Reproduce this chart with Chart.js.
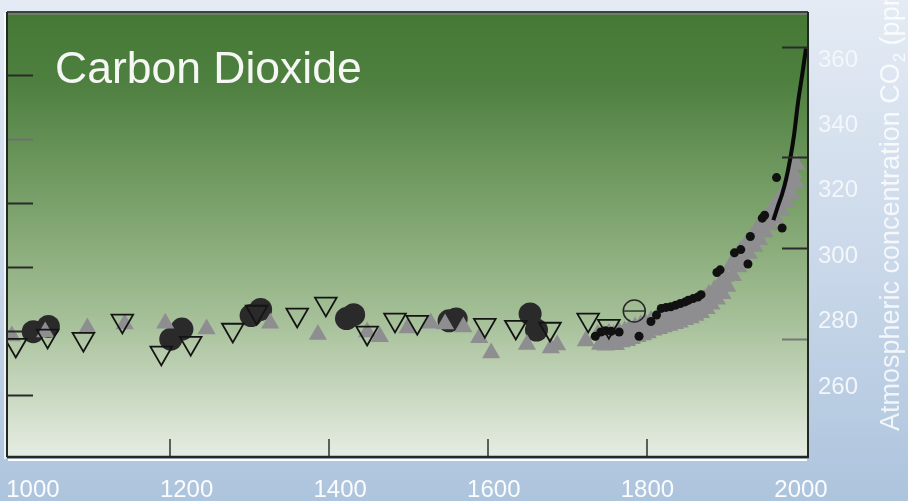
<!DOCTYPE html>
<html>
<head>
<meta charset="utf-8">
<title>Carbon Dioxide</title>
<script src="https://cdn.jsdelivr.net/npm/chart.js@4.4.1/dist/chart.umd.min.js"></script>
<style>
  html, body { margin: 0; padding: 0; background: #c9d7e9; }
  #c { display: block; }
</style>
</head>
<body>
<canvas id="c" width="908" height="501"></canvas>
<script>
// ---- data ----
const yearTicks = [1000, 1200, 1400, 1600, 1800, 2000];
const ppmTicks = [260, 280, 300, 320, 340, 360];
const innerYearTicks = [1200, 1400, 1600, 1800];
const leftTickPpm = [355.4, 335.8, 316.2, 296.7, 277.1, 257.5];
const rightTickPpm = [363.9, 330.3, 302.5, 274.6];

// ice-core samples, filled circles
const circleYears = [1028, 1047, 1201, 1215, 1302, 1314, 1422, 1431, 1551, 1560, 1653, 1661];
const circlePpm   = [276.9, 278.5, 274.6, 277.7, 281.8, 283.7, 280.9, 282.1, 280.2, 280.8, 282.3, 277.4];

// ice-core samples, grey up-triangles
const triYears = [1001, 1043, 1096, 1143, 1194, 1246, 1326, 1386, 1448, 1464, 1499, 1528, 1546, 1569, 1589, 1604, 1649, 1679, 1687, 1723];
const triPpm   = [275.6, 276.8, 278.0, 279.2, 279.5, 277.7, 279.5, 276.0, 276.8, 275.3, 278.0, 279.5, 279.2, 278.3, 275.0, 270.4, 273.0, 271.9, 272.8, 274.0];

// ice-core samples, open down-triangles
const downYears = [1006, 1046, 1091, 1140, 1189, 1226, 1279, 1309, 1360, 1396, 1448, 1483, 1511, 1596, 1635, 1678, 1726, 1752];
const downPpm   = [272.8, 275.6, 274.6, 280.2, 270.4, 273.4, 277.4, 282.9, 282.0, 285.4, 276.5, 280.5, 279.8, 278.9, 278.3, 277.7, 280.5, 278.6];

// open circle sample
const ringYears = [1784];
const ringPpm   = [283.2];

// dense grey record, 1738-1988
const bandYears = [1738, 1741, 1745, 1748, 1752, 1755, 1758, 1761, 1765, 1768, 1772, 1775, 1778, 1781, 1785, 1788,
  1792, 1795, 1798, 1801, 1805, 1808, 1812, 1815, 1818, 1821, 1825, 1828, 1832, 1835, 1838, 1841, 1845, 1848,
  1852, 1855, 1858, 1861, 1865, 1868, 1872, 1875, 1878, 1881, 1885, 1888, 1892, 1895, 1898, 1901, 1905, 1908,
  1912, 1915, 1918, 1921, 1925, 1928, 1932, 1935, 1938, 1941, 1945, 1948, 1952, 1955, 1958, 1961, 1965, 1968,
  1972, 1975, 1978, 1981, 1984, 1987, 1988];
const bandPpm = [276.0, 273.0, 275.7, 272.7, 276.3, 273.3, 275.9, 272.9, 276.7, 273.7, 277.1, 274.1, 277.7, 274.7, 278.3, 275.3,
  278.9, 275.9, 279.5, 276.5, 280.3, 277.3, 280.8, 277.8, 281.3, 278.3, 281.8, 278.8, 282.3, 279.3, 282.8, 279.8, 283.5, 280.5,
  284.1, 281.1, 284.8, 281.8, 285.7, 282.7, 286.9, 283.9, 288.3, 285.3, 289.8, 286.8, 291.5, 288.5, 293.7, 290.7, 297.0, 294.0,
  299.7, 296.7, 301.8, 298.8, 303.8, 300.8, 305.9, 302.9, 308.0, 305.0, 310.3, 307.3, 312.5, 309.5, 314.7, 311.7, 317.0, 314.0,
  319.5, 316.5, 322.1, 319.1, 325.3, 322.3, 328.0];

// small black samples along the recent record
const dotYears = [1735, 1742, 1748, 1755, 1765, 1790, 1805, 1812, 1818, 1824, 1830, 1836, 1842, 1848, 1852, 1858, 1864, 1868,
  1888, 1892, 1910, 1918, 1927, 1930, 1945, 1948, 1963, 1970];
const dotPpm   = [275.5, 276.8, 277.2, 277.0, 276.8, 275.5, 280.0, 282.0, 284.0, 284.3, 284.5, 285.0, 285.5, 286.0, 286.5, 287.0, 287.5, 288.2,
  295.0, 295.8, 301.0, 302.0, 297.6, 306.0, 311.6, 312.5, 324.0, 308.6];

// direct atmospheric measurements
const directYears = [1959, 1965, 1970, 1975, 1980, 1985, 1990, 1995, 2000];
const directPpm   = [311.0, 315.5, 319.0, 323.5, 329.5, 337.0, 347.0, 355.0, 363.5];

const pts = (xs, ys) => xs.map((x, i) => ({ x, y: ys[i] }));

// ---- styling ----
const FONT = "'Liberation Sans', Arial, Helvetica, sans-serif";
Chart.defaults.font.family = FONT;

// keep edge labels from pushing the plot area inwards
function noEdgePadding(s) {
  s._calculatePadding = function () {
    this.paddingLeft = 0; this.paddingRight = 0; this.paddingTop = 0; this.paddingBottom = 0;
  };
}

const decor = {
  id: 'decor',
  beforeDraw(chart) {
    const { ctx, chartArea: a, width, height } = chart;
    ctx.save();
    const bg = ctx.createLinearGradient(0, 0, 0, height);
    bg.addColorStop(0, '#e4ebf4');
    bg.addColorStop(0.5, '#cbd9ea');
    bg.addColorStop(1, '#adc4dd');
    ctx.fillStyle = bg;
    ctx.fillRect(0, 0, width, height);

    const g = ctx.createLinearGradient(0, a.top, 0, a.bottom);
    g.addColorStop(0, '#467835');
    g.addColorStop(0.15, '#4d7f3f');
    g.addColorStop(0.45, '#7da36d');
    g.addColorStop(0.7, '#a7c19a');
    g.addColorStop(0.86, '#c9d8c1');
    g.addColorStop(1, '#e6ece2');
    ctx.fillStyle = g;
    ctx.fillRect(a.left, a.top, a.right - a.left, a.bottom - a.top);
    ctx.restore();
  },
  afterDatasetsDraw(chart) {
    const { ctx, chartArea: a, scales } = chart;
    const xs = scales.x, ys = scales.y;
    ctx.save();
    // inner tick marks on the time axis
    ctx.strokeStyle = '#5a5f5a';
    ctx.lineWidth = 2;
    innerYearTicks.forEach(v => {
      const px = Math.round(xs.getPixelForValue(v));
      ctx.beginPath(); ctx.moveTo(px, a.bottom); ctx.lineTo(px, a.bottom - 17); ctx.stroke();
    });
    // inner tick marks on the left and right edges
    leftTickPpm.forEach((v, i) => {
      const py = Math.round(ys.getPixelForValue(v)) + 0.5;
      ctx.strokeStyle = i === 1 ? '#707070' : '#2a2a2a';
      ctx.beginPath(); ctx.moveTo(a.left, py); ctx.lineTo(a.left + 25, py); ctx.stroke();
    });
    rightTickPpm.forEach((v, i) => {
      const py = Math.round(ys.getPixelForValue(v)) + 0.5;
      ctx.strokeStyle = i === 3 ? '#777777' : '#2a2a2a';
      ctx.beginPath(); ctx.moveTo(a.right - 25, py); ctx.lineTo(a.right, py); ctx.stroke();
    });
    // frame
    ctx.lineWidth = 2;
    ctx.strokeStyle = '#394536';
    ctx.beginPath(); ctx.moveTo(a.left - 1, a.top - 1); ctx.lineTo(a.right + 1, a.top - 1); ctx.stroke();
    ctx.strokeStyle = '#6e7d69';
    ctx.beginPath(); ctx.moveTo(a.left, a.top + 1); ctx.lineTo(a.right, a.top + 1); ctx.stroke();
    ctx.strokeStyle = '#222822';
    ctx.beginPath(); ctx.moveTo(a.left - 1, a.top - 1); ctx.lineTo(a.left - 1, a.bottom + 1); ctx.stroke();
    ctx.beginPath(); ctx.moveTo(a.right + 1, a.top - 1); ctx.lineTo(a.right + 1, a.bottom + 1); ctx.stroke();
    ctx.lineWidth = 2.5;
    ctx.beginPath(); ctx.moveTo(a.left - 1, a.bottom + 1); ctx.lineTo(a.right + 2, a.bottom + 1); ctx.stroke();
    ctx.strokeStyle = '#ffffff';
    ctx.lineWidth = 2;
    ctx.beginPath(); ctx.moveTo(a.left, a.bottom + 4); ctx.lineTo(a.right, a.bottom + 4); ctx.stroke();
    ctx.lineWidth = 1.5;
    ctx.beginPath(); ctx.moveTo(a.left - 3, a.top); ctx.lineTo(a.left - 3, a.bottom + 3); ctx.stroke();
    ctx.restore();
  },
  afterDraw(chart) {
    const { ctx } = chart;
    ctx.save();
    // panel title
    ctx.fillStyle = '#f6f7f4';
    ctx.font = '44.5px ' + FONT;
    ctx.textAlign = 'left';
    ctx.textBaseline = 'alphabetic';
    ctx.fillText('Carbon Dioxide', 55, 83);

    // rotated axis title on the right, reading upward
    ctx.translate(899, 431);
    ctx.rotate(-Math.PI / 2);
    ctx.fillStyle = 'rgba(255,255,255,0.8)';
    ctx.font = '27px ' + FONT;
    const part1 = 'Atmospheric concentration CO';
    ctx.fillText(part1, 0, 0);
    let w = ctx.measureText(part1).width;
    ctx.font = '17px ' + FONT;
    ctx.fillText('2', w + 1, 6);
    w += ctx.measureText('2').width + 1;
    ctx.font = '27px ' + FONT;
    ctx.fillText(' (ppm)', w, 0);
    ctx.restore();
  }
};

const common = { clip: 0, showLine: false };

new Chart(document.getElementById('c'), {
  type: 'scatter',
  data: {
    datasets: [
      { ...common, label: 'circles', order: 7, data: pts(circleYears, circlePpm),
        pointStyle: 'circle', pointRadius: 11.5, backgroundColor: '#2a2a2a', borderColor: '#2a2a2a', borderWidth: 0 },
      { ...common, label: 'grey band', order: 6, data: pts(bandYears, bandPpm),
        pointStyle: 'triangle', pointRadius: 10.5, backgroundColor: '#8e8e91', borderColor: '#8e8e91', borderWidth: 0 },
      { ...common, label: 'grey triangles', order: 5, data: pts(triYears, triPpm),
        pointStyle: 'triangle', pointRadius: 10.5, backgroundColor: '#8e8e91', borderColor: '#8e8e91', borderWidth: 0 },
      { ...common, label: 'black dots', order: 4, data: pts(dotYears, dotPpm),
        pointStyle: 'circle', pointRadius: 4.5, backgroundColor: '#111111', borderColor: '#111111', borderWidth: 0 },
      { ...common, label: 'open triangles', order: 3, data: pts(downYears, downPpm),
        pointStyle: 'triangle', rotation: 180, pointRadius: 12.5, backgroundColor: 'rgba(0,0,0,0)', borderColor: '#141414', borderWidth: 1.8 },
      { ...common, label: 'ring', order: 2, data: pts(ringYears, ringPpm),
        pointStyle: 'circle', pointRadius: 11, backgroundColor: 'rgba(0,0,0,0)', borderColor: '#262626', borderWidth: 1.5 },
      { ...common, label: 'ring bar', order: 2, data: pts(ringYears, ringPpm),
        pointStyle: 'line', pointRadius: 11, backgroundColor: '#333333', borderColor: '#333333', borderWidth: 1.5 },
      { clip: 0, type: 'line', label: 'direct', order: 1, data: pts(directYears, directPpm),
        showLine: true, borderColor: '#0a0a0a', borderWidth: 4, pointRadius: 0, tension: 0.3, fill: false }
    ]
  },
  options: {
    responsive: false,
    devicePixelRatio: 1,
    animation: false,
    events: [],
    layout: { autoPadding: false, padding: { left: 8, top: 13, right: 0, bottom: 0 } },
    plugins: { legend: { display: false }, tooltip: { enabled: false }, title: { display: false } },
    scales: {
      x: { type: 'linear', display: false, min: 996.2, max: 2001.3 },
      xLab: {
        type: 'linear', position: 'bottom', min: 967.5, max: 2007.8,
        beforeFit: noEdgePadding,
        afterBuildTicks: s => { s.ticks = yearTicks.map(v => ({ value: v })); },
        afterFit: s => { s.height = 45; s.paddingLeft = 0; s.paddingRight = 0; },
        grid: { display: false, drawTicks: false }, border: { display: false },
        ticks: { color: '#fbfcfe', font: { size: 24 }, padding: 20, maxRotation: 0, autoSkip: false,
                 callback: v => String(v) }
      },
      y: {
        type: 'linear', position: 'right', min: 238.87, max: 374.34,
        beforeFit: noEdgePadding,
        afterBuildTicks: s => { s.ticks = ppmTicks.map(v => ({ value: v })); },
        afterFit: s => { s.width = 101; s.paddingTop = 0; s.paddingBottom = 0; },
        grid: { display: false, drawTicks: false }, border: { display: false },
        ticks: { color: '#f3f6fa', font: { size: 24 }, padding: 11, crossAlign: 'near',
                 callback: v => String(v) }
      }
    }
  },
  plugins: [decor]
});
</script>
</body>
</html>
